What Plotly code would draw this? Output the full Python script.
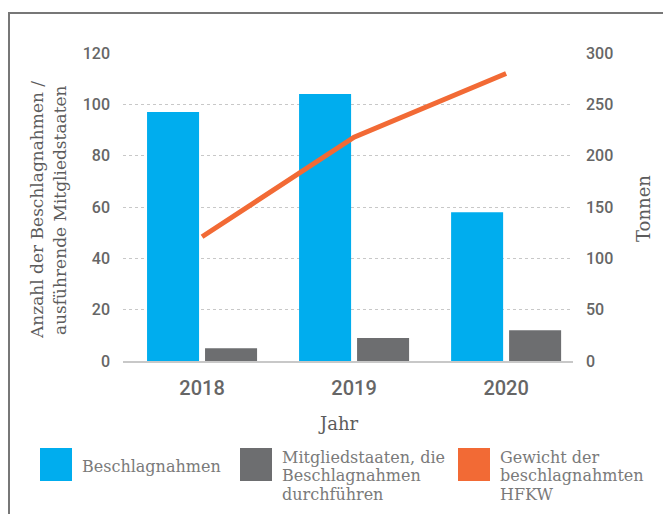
import plotly.graph_objects as go

# Data
years = ["2018", "2019", "2020"]
seizures = [97, 104, 58]          # Beschlagnahmen
member_states = [5, 9, 12]        # Mitgliedstaaten, die Beschlagnahmen durchführen
tonnes = [121, 218, 280]          # Gewicht der beschlagnahmten HFKW (Tonnen)

left_ticks = [0, 20, 40, 60, 80, 100, 120]
right_ticks = [0, 50, 100, 150, 200, 250, 300]

BLUE = "#00ADEE"
GREY = "#6D6E70"
ORANGE = "#F26A35"
TEXT = "#666666"

W, H = 663, 514
L, R, T, B = 123, 90, 53, 153
PW, PH = W - L - R, H - T - B


def px(x):
    return (x - L) / PW


def py(y):
    return (H - B - y) / PH


fig = go.Figure()
fig.add_trace(go.Bar(x=years, y=seizures, name="Beschlagnahmen",
                     marker=dict(color=BLUE, line=dict(width=0))))
fig.add_trace(go.Bar(x=years, y=member_states,
                     name="Mitgliedstaaten, die Beschlagnahmen durchführen",
                     marker=dict(color=GREY, line=dict(width=0))))
fig.add_trace(go.Scatter(x=years, y=tonnes, yaxis="y2", mode="lines",
                         name="Gewicht der beschlagnahmten HFKW",
                         line=dict(color=ORANGE, width=5)))

tick_font = dict(family="Roboto", size=16, color=TEXT, weight=500)
title_font = dict(family="DejaVu Serif", size=17, color="#5c5c5c")
legend_font = dict(family="DejaVu Serif", size=16, color="#7a7a7a")

fig.update_layout(
    width=W, height=H,
    margin=dict(l=L, r=R, t=T, b=B),
    paper_bgcolor="white", plot_bgcolor="white",
    barmode="group", bargap=0.237, bargroupgap=0.103,
    showlegend=False,
    xaxis=dict(
        type="category", range=[-0.52, 2.44],
        showgrid=False, zeroline=False,
        showline=True, linecolor="#c8c8c8", linewidth=2,
        tickfont=dict(family="Roboto", size=20, color=TEXT, weight=500),
        ticks="", ticklabelstandoff=8,
    ),
    yaxis=dict(
        range=[0, 120], tickvals=left_ticks,
        showgrid=True, gridcolor="#c8c8c8", griddash="dot", gridwidth=1,
        zeroline=False, showline=False,
        tickfont=tick_font, ticks="", ticklabelstandoff=12,
    ),
    yaxis2=dict(
        range=[0, 300], tickvals=right_ticks, overlaying="y", side="right",
        showgrid=False, zeroline=False, showline=False,
        tickfont=tick_font, ticks="", ticklabelstandoff=12,
    ),
)

annotations = []
# axis titles
annotations.append(dict(text="Anzahl der Beschlagnahmen /", x=px(37), y=py(210),
                        textangle=-90, font=title_font))
annotations.append(dict(text="ausführende Mitgliedstaaten", x=px(60), y=py(210),
                        textangle=-90, font=title_font))
annotations.append(dict(text="Tonnen", x=px(643), y=py(209), textangle=-90,
                        font=dict(family="DejaVu Serif", size=18, color="#5c5c5c")))
annotations.append(dict(text="Jahr", x=px(338), y=py(423),
                        font=dict(family="DejaVu Serif", size=18, color="#5c5c5c")))

# legend
legend_items = [
    (BLUE, 40, ["Beschlagnahmen"], 466),
    (GREY, 240, ["Mitgliedstaaten, die", "Beschlagnahmen", "durchführen"], 457),
    (ORANGE, 458, ["Gewicht der", "beschlagnahmten", "HFKW"], 457),
]
shapes = []
for color, x0, lines, y_first in legend_items:
    shapes.append(dict(type="rect", xref="paper", yref="paper",
                       x0=px(x0), x1=px(x0 + 32), y0=py(481), y1=py(448),
                       fillcolor=color, line=dict(width=0)))
    for i, line in enumerate(lines):
        annotations.append(dict(text=line, x=px(x0 + 40), y=py(y_first + 18.5 * i),
                                xanchor="left", yanchor="middle", font=legend_font))

for a in annotations:
    a.update(xref="paper", yref="paper", showarrow=False)
    a.setdefault("xanchor", "center")
    a.setdefault("yanchor", "middle")

# frame lines (left and top)
shapes.append(dict(type="line", xref="paper", yref="paper",
                   x0=px(9), x1=px(9), y0=py(H + 5), y1=py(13),
                   line=dict(color="#777777", width=2)))
shapes.append(dict(type="line", xref="paper", yref="paper",
                   x0=px(8), x1=px(W + 5), y0=py(13), y1=py(13),
                   line=dict(color="#777777", width=2)))

fig.update_layout(annotations=annotations, shapes=shapes)
fig.write_html("out.html")
